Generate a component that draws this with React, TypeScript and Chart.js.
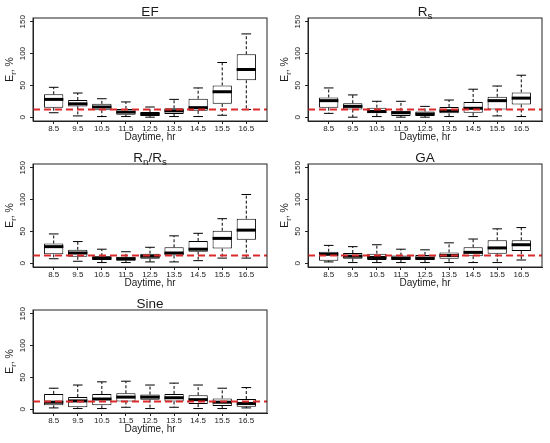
import { useEffect, useRef } from "react";
import { Chart, registerables } from "chart.js";

Chart.register(...registerables);

const hours = ["8.5", "9.5", "10.5", "11.5", "12.5", "13.5", "14.5", "15.5", "16.5"];
const yTicks = [0, 50, 100, 150];
const threshold = 12;

// EF
const efLow = [7, 2, 1, 1, 0, 1, 1, 3, 12];
const efQ1 = [15, 17, 11, 4, 2, 5, 10, 21, 58];
const efMed = [28, 21, 16, 8, 5, 10, 15, 40, 75];
const efQ3 = [36, 27, 21, 13, 8, 14, 29, 50, 99];
const efHigh = [47, 38, 29, 24, 16, 28, 46, 86, 131];

// Rs
const rsLow = [6, 0, 1, 0, 0, 1, 1, 2, 1];
const rsQ1 = [15, 12, 6, 2, 2, 6, 7, 12, 20];
const rsMed = [26, 17, 9, 7, 5, 10, 14, 26, 30];
const rsQ3 = [31, 22, 15, 10, 9, 16, 24, 32, 39];
const rsHigh = [46, 35, 25, 25, 17, 27, 44, 49, 66];

// Rn/Rs
const rnLow = [7, 3, 1, 1, 2, 2, 4, 8, 8];
const rnQ1 = [14, 10, 5, 4, 7, 12, 18, 23, 37];
const rnMed = [26, 16, 8, 7, 11, 16, 22, 39, 52];
const rnQ3 = [31, 21, 11, 10, 15, 25, 35, 51, 70];
const rnHigh = [46, 34, 22, 18, 25, 43, 47, 70, 108];

// GA
const gaLow = [2, 1, 1, 1, 1, 1, 1, 1, 5];
const gaQ1 = [4, 7, 5, 5, 5, 7, 11, 15, 19];
const gaMed = [14, 11, 9, 8, 8, 12, 17, 24, 29];
const gaQ3 = [18, 16, 15, 12, 13, 17, 25, 36, 36];
const gaHigh = [28, 26, 29, 22, 21, 32, 38, 54, 56];

// Sine
const snLow = [2, 1, 1, 3, 1, 3, 1, 1, 2];
const snQ1 = [6, 3, 6, 12, 15, 12, 8, 5, 4];
const snMed = [11, 13, 16, 19, 19, 18, 15, 11, 9];
const snQ3 = [24, 19, 24, 25, 23, 24, 22, 17, 16];
const snHigh = [33, 38, 43, 44, 38, 41, 38, 33, 34];

const FONT = "'Liberation Sans', Arial, sans-serif";
const TEXT = "#1a1a1a";

type Seg = { text: string; sub?: boolean };

const yLabel: Seg[] = [{ text: "E" }, { text: "r", sub: true }, { text: ", %" }];

// draws text with subscripts, centred on cx, baseline at cy
function drawSegs(ctx: CanvasRenderingContext2D, segs: Seg[], cx: number, cy: number, size: number) {
  const subSize = size * 0.72;
  const widths = segs.map((s) => {
    ctx.font = `${s.sub ? subSize : size}px ${FONT}`;
    return ctx.measureText(s.text).width;
  });
  const total = widths.reduce((a, b) => a + b, 0);
  let x = cx - total / 2;
  ctx.textAlign = "left";
  ctx.textBaseline = "alphabetic";
  segs.forEach((s, i) => {
    ctx.font = `${s.sub ? subSize : size}px ${FONT}`;
    ctx.fillText(s.text, x, cy + (s.sub ? size * 0.28 : 0));
    x += widths[i];
  });
}

type PanelProps = {
  title: Seg[];
  low: number[];
  q1: number[];
  med: number[];
  q3: number[];
  high: number[];
};

function BoxPanel({ title, low, q1, med, q3, high }: PanelProps) {
  const canvasRef = useRef<HTMLCanvasElement>(null);

  useEffect(() => {
    if (!canvasRef.current) return;

    const extras = {
      id: "boxExtras",
      afterDatasetsDraw(chart: any) {
        const { ctx, chartArea: a, scales } = chart;
        const ys = scales.y;
        const meta = chart.getDatasetMeta(0);
        ctx.save();
        ctx.strokeStyle = "#000";
        const seg = (x1: number, y1: number, x2: number, y2: number) => {
          ctx.beginPath();
          ctx.moveTo(x1, y1);
          ctx.lineTo(x2, y2);
          ctx.stroke();
        };
        meta.data.forEach((bar: any, i: number) => {
          const { x: px, width: bw } = bar.getProps(["x", "width"], true);
          const yLo = ys.getPixelForValue(low[i]);
          const yQ1 = ys.getPixelForValue(q1[i]);
          const yMed = ys.getPixelForValue(med[i]);
          const yQ3 = ys.getPixelForValue(q3[i]);
          const yHi = ys.getPixelForValue(high[i]);
          ctx.lineWidth = 1;
          ctx.setLineDash([3, 2]);
          seg(px, yQ3, px, yHi);
          seg(px, yQ1, px, yLo);
          ctx.setLineDash([]);
          seg(px - bw / 4, yHi, px + bw / 4, yHi);
          seg(px - bw / 4, yLo, px + bw / 4, yLo);
          ctx.lineWidth = 3;
          seg(px - bw / 2, yMed, px + bw / 2, yMed);
        });
        // reference line
        const yT = ys.getPixelForValue(threshold);
        ctx.strokeStyle = "#dc2a2a";
        ctx.lineWidth = 2;
        ctx.setLineDash([7, 4]);
        seg(a.left, yT, a.right, yT);
        ctx.restore();
      },
      afterDraw(chart: any) {
        const { ctx, chartArea: a, scales } = chart;
        const ys = scales.y;
        ctx.save();
        ctx.strokeStyle = "#222";
        ctx.lineWidth = 1;
        ctx.strokeRect(a.left, a.top, a.right - a.left, a.bottom - a.top);
        ctx.fillStyle = TEXT;
        // title
        drawSegs(ctx, title, (a.left + a.right) / 2, 15.5, 13.5);
        // rotated y tick labels
        ctx.font = `8px ${FONT}`;
        ctx.textAlign = "center";
        ctx.textBaseline = "middle";
        yTicks.forEach((v) => {
          ctx.save();
          ctx.translate(23, ys.getPixelForValue(v));
          ctx.rotate(-Math.PI / 2);
          ctx.fillText(String(v), 0, 0);
          ctx.restore();
        });
        // y title
        ctx.save();
        ctx.translate(13, (a.top + a.bottom) / 2);
        ctx.rotate(-Math.PI / 2);
        drawSegs(ctx, yLabel, 0, 0, 10.5);
        ctx.restore();
        ctx.restore();
      },
    };

    const chart = new Chart(canvasRef.current, {
      type: "bar",
      data: {
        datasets: [
          {
            data: hours.map((_, i) => ({ x: i, y: [q1[i], q3[i]] })) as any,
            backgroundColor: "#fff",
            borderColor: "#000",
            borderWidth: 1,
            borderSkipped: false,
            barPercentage: 0.8,
            categoryPercentage: 1,
          },
        ],
      },
      options: {
        responsive: false,
        animation: false,
        layout: { padding: { top: 18, right: 8, left: 0, bottom: 0 } },
        plugins: {
          legend: { display: false },
          tooltip: { enabled: false },
        },
        scales: {
          x: {
            type: "linear",
            min: -0.86,
            max: 8.86,
            offset: false,
            afterBuildTicks: (s: any) => {
              s.ticks = hours.map((_, i) => ({ value: i }));
            },
            afterFit: (s: any) => {
              s.height = 25;
            },
            grid: { display: true, drawOnChartArea: false, drawTicks: true, tickLength: 3, color: "#222", offset: false },
            border: { display: true, color: "#222" },
            ticks: {
              callback: (v: any) => hours[Math.round(Number(v))],
              autoSkip: false,
              maxRotation: 0,
              minRotation: 0,
              padding: 0,
              color: TEXT,
              font: { family: FONT, size: 8 },
            },
            title: {
              display: true,
              text: "Daytime, hr",
              color: TEXT,
              font: { family: FONT, size: 10 },
              padding: { top: 0, bottom: 3 },
            },
          },
          y: {
            min: -6,
            max: 156,
            afterBuildTicks: (s: any) => {
              s.ticks = yTicks.map((v) => ({ value: v }));
            },
            afterFit: (s: any) => {
              s.width = 33;
            },
            grid: { display: true, drawOnChartArea: false, drawTicks: true, tickLength: 3, color: "#222" },
            border: { display: true, color: "#222" },
            ticks: { display: false },
          },
        },
      },
      plugins: [extras],
    });

    return () => chart.destroy();
  }, []);

  return (
    <canvas
      ref={canvasRef}
      width={275}
      height={146}
      style={{ display: "block", width: 275, height: 146 }}
    />
  );
}

export default function App() {
  return (
    <div
      style={{
        position: "absolute",
        left: 0,
        top: 0,
        width: 550,
        height: 443,
        background: "#fff",
        display: "grid",
        gridTemplateColumns: "275px 275px",
        gridTemplateRows: "146px 146px 151px",
      }}
    >
      <BoxPanel title={[{ text: "EF" }]} low={efLow} q1={efQ1} med={efMed} q3={efQ3} high={efHigh} />
      <BoxPanel
        title={[{ text: "R" }, { text: "s", sub: true }]}
        low={rsLow}
        q1={rsQ1}
        med={rsMed}
        q3={rsQ3}
        high={rsHigh}
      />
      <BoxPanel
        title={[{ text: "R" }, { text: "n", sub: true }, { text: "/R" }, { text: "s", sub: true }]}
        low={rnLow}
        q1={rnQ1}
        med={rnMed}
        q3={rnQ3}
        high={rnHigh}
      />
      <BoxPanel title={[{ text: "GA" }]} low={gaLow} q1={gaQ1} med={gaMed} q3={gaQ3} high={gaHigh} />
      <BoxPanel title={[{ text: "Sine" }]} low={snLow} q1={snQ1} med={snMed} q3={snQ3} high={snHigh} />
    </div>
  );
}
